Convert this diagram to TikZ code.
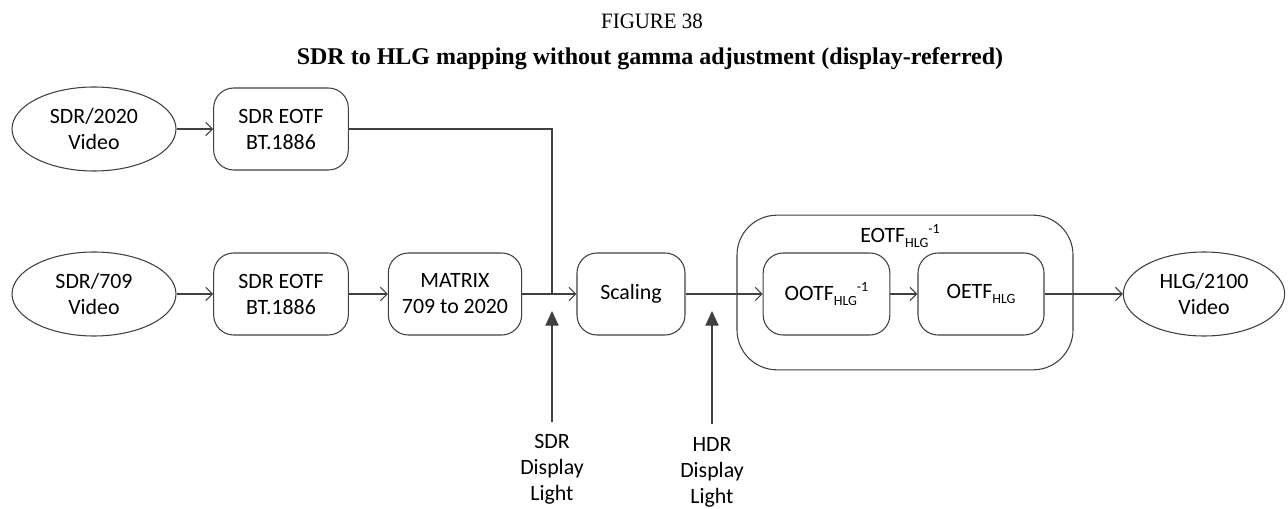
\documentclass[tikz,border=0pt]{standalone}
\usepackage{fontspec}
\setmainfont{Carlito}
\newfontfamily\timesf{Liberation Serif}
\usetikzlibrary{shapes.geometric,arrows.meta}
\definecolor{ln}{HTML}{404040}
\newcommand{\sbs}[1]{\raisebox{-0.45ex}{\fontsize{10.5pt}{10.5pt}\selectfont #1}}
\newcommand{\sps}[1]{\raisebox{0.9ex}{\fontsize{10.5pt}{10.5pt}\selectfont #1}}
\begin{document}
\begin{tikzpicture}[x=0.75pt,y=-0.75pt,
  txt/.style={font=\fontsize{16.4pt}{19.5pt}\selectfont, align=center, text=black},
  rbox/.style={txt, draw=ln, line width=0.8pt, rounded corners=15pt, minimum width=101pt, minimum height=61.5pt, inner sep=0pt},
  ell/.style={txt, draw=ln, line width=0.8pt, ellipse, minimum width=123pt, minimum height=63pt, inner sep=0pt},
  conn/.style={draw=ln, line width=0.8pt},
  arr/.style={conn, -{Straight Barb[length=5pt,width=10pt]}},
  up/.style={conn, -{Triangle[length=11pt,width=10pt]}}]
\useasboundingbox (0,0) rectangle (1288,509);
\node[font=\timesf\fontsize{16.5pt}{18pt}\selectfont, xscale=0.95] (fig) at (652,21) {FIGURE 38};
\node[font=\timesf\bfseries\fontsize{18pt}{20pt}\selectfont] (ttl) at (650,59) {SDR to HLG mapping without gamma adjustment (display-referred)};

\node[ell] (s2020) at (94,129) {SDR/2020\\Video};
\node[rbox] (e1) at (281,129) {SDR EOTF\\BT.1886};
\node[ell] (s709) at (94,294) {SDR/709\\Video};
\node[rbox] (e2) at (281,294) {SDR EOTF\\BT.1886};
\node[rbox, minimum width=100pt] (mx) at (455,294) {MATRIX\\709 to 2020};
\node[rbox, minimum width=81pt] (sc) at (631,294) {Scaling};
\node[draw=ln, line width=0.8pt, rounded corners=30pt, minimum width=252pt, minimum height=116pt, inner sep=0pt] (big) at (905,292.5) {};
\node[txt] (bl) at (900,236) {EOTF\sbs{HLG}\sps{-1}};
\node[rbox, minimum width=95pt] (oo) at (826.5,294) {OOTF\sbs{HLG}\sps{-1}};
\node[rbox, minimum width=94.5pt] (oe) at (981,294) {OETF\sbs{HLG}};
\node[ell, minimum width=121pt] (hlg) at (1204,294) {HLG/2100\\Video};

\coordinate (j) at (552,294);
\coordinate (sdrb) at (552,422);
\coordinate (hdrb) at (712,424);
\coordinate (sdrt) at (552,311);
\coordinate (hdrt) at (712,311);
\node[txt, align=center] (sdrl) at (552,469) {SDR\\Display\\Light};
\node[txt, align=center] (hdrl) at (712,472) {HDR\\Display\\Light};

\draw[arr] (s2020) -- (e1);
\draw[arr] (s709) -- (e2);
\draw[arr] (e2) -- (mx);
\draw[conn] (e1.east) -| (j);
\draw[arr] (mx) -- (sc);
\draw[arr] (sc) -- (oo);
\draw[arr] (oo) -- (oe);
\draw[arr] (oe) -- (hlg);
\draw[up] (sdrb) -- (sdrt);
\draw[up] (hdrb) -- (hdrt);
\end{tikzpicture}
\end{document}
